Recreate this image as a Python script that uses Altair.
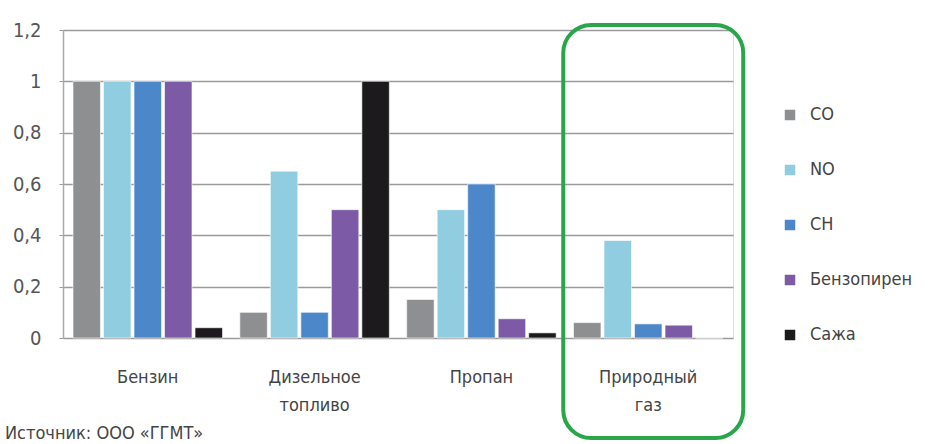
import altair as alt
import pandas as pd

fuels = ["Бензин", "Дизельное топливо", "Пропан", "Природный газ"]
pollutants = ["CO", "NO", "CH", "Бензопирен", "Сажа"]
co = [1.0, 0.10, 0.15, 0.06]
no = [1.0, 0.65, 0.50, 0.38]
ch = [1.0, 0.10, 0.60, 0.055]
benzo = [1.0, 0.50, 0.075, 0.05]
soot = [0.04, 1.0, 0.02, 0.0]
colors = ["#8e8f91", "#90cde0", "#4b87c9", "#7c5aa6", "#1c1a1c"]
highlight = ["Природный газ"]
source = "Источник: ООО «ГГМТ»"

series = {"CO": co, "NO": no, "CH": ch, "Бензопирен": benzo, "Сажа": soot}
rows = []
for p in pollutants:
    for f, v in zip(fuels, series[p]):
        rows.append({"fuel": f, "pollutant": p, "value": v})
df = pd.DataFrame(rows)

FONT = "Liberation Sans Narrow, DejaVu Sans Condensed, Roboto, sans-serif"

xscale = alt.Scale(domain=fuels, paddingInner=0.104, paddingOuter=0.06)

bars = alt.Chart(df).mark_bar(stroke="white", strokeWidth=0.6).encode(
    x=alt.X("fuel:N", scale=xscale, sort=fuels, title=None,
            axis=alt.Axis(labelAngle=0, labelExpr="split(datum.label, ' ')",
                          labelFont=FONT, labelFontSize=18, labelColor="#444",
                          labelPadding=39, ticks=False, domain=False,
                          labelLineHeight=28, labelBaseline="middle")),
    xOffset=alt.XOffset("pollutant:N", sort=pollutants,
                        scale=alt.Scale(paddingInner=0.1)),
    y=alt.Y("value:Q", scale=alt.Scale(domain=[0, 1.2]), title=None,
            axis=alt.Axis(values=[0, 0.2, 0.4, 0.6, 0.8, 1.0, 1.2],
                          labelExpr="replace(format(datum.value, '.1~f'), '.', ',')",
                          labelFont=FONT, labelFontSize=20, labelColor="#555",
                          labelPadding=18, tickSize=4, tickColor="#999",
                          domainColor="#aaa", domainWidth=1.5,
                          gridColor="#9a9a9a", gridWidth=1.5)),
    color=alt.Color("pollutant:N", sort=pollutants,
                    scale=alt.Scale(domain=pollutants, range=colors),
                    legend=alt.Legend(title=None, orient="none", legendX=718, legendY=76,
                                      symbolType="square", symbolSize=110,
                                      symbolStrokeWidth=0, labelFont=FONT,
                                      labelFontSize=18, labelColor="#444",
                                      rowPadding=37, labelOffset=11)),
)

hl_df = pd.DataFrame({"fuel": highlight})
box = alt.Chart(hl_df).mark_bar(width=180, cornerRadius=28, filled=False, xOffset=5,
                                 stroke="#2aa54a", strokeWidth=4, clip=False).encode(
    x=alt.X("fuel:N", scale=xscale, sort=fuels),
    y=alt.value(-5),
    y2=alt.value(408),
)

src_df = pd.DataFrame({"t": [source]})
src = alt.Chart(src_df).mark_text(align="left", baseline="middle", font=FONT,
                                  fontSize=18, color="#444", clip=False).encode(
    text="t:N", x=alt.value(-58), y=alt.value(404))

chart = alt.layer(bars, box, src).properties(
    width=670, height=308,
    autosize=alt.AutoSizeParams(type="none"),
    padding={"left": 63, "top": 30, "right": 195, "bottom": 106},
).configure_view(stroke=None).configure(background="white")

chart.save("out.html", embed_options={"renderer": "svg", "actions": False})
